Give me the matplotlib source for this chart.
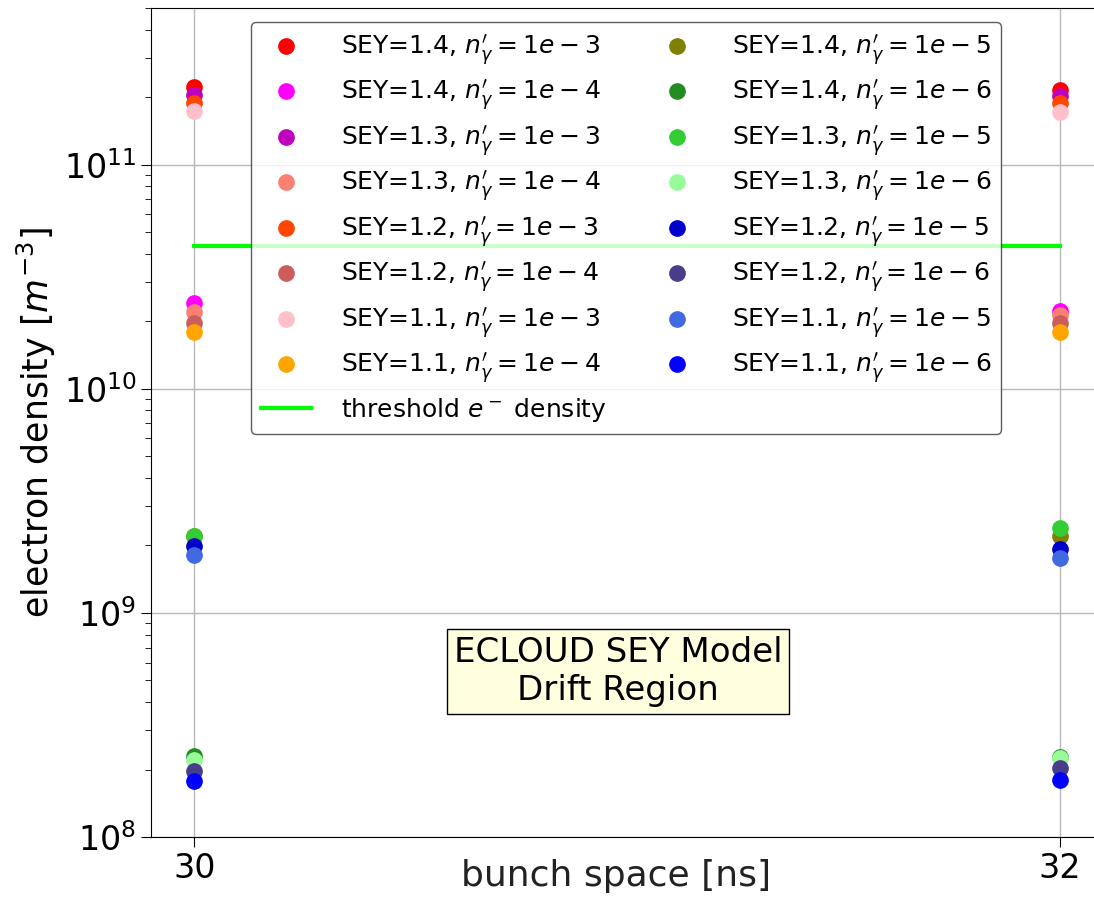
import matplotlib.pyplot as plt

bunch_space = [30, 32]

# SEY, n'_gamma, colour, densities at 30 ns and 32 ns
sey = [1.4, 1.4, 1.3, 1.3, 1.2, 1.2, 1.1, 1.1,
       1.4, 1.4, 1.3, 1.3, 1.2, 1.2, 1.1, 1.1]
ngamma = ["1e-3", "1e-4", "1e-3", "1e-4", "1e-3", "1e-4", "1e-3", "1e-4",
          "1e-5", "1e-6", "1e-5", "1e-6", "1e-5", "1e-6", "1e-5", "1e-6"]
colors = ["red", "magenta", "m", "salmon", "orangered", "indianred", "pink", "orange",
          "olive", "forestgreen", "limegreen", "palegreen", "mediumblue", "darkslateblue",
          "royalblue", "blue"]
dens_30 = [2.21e11, 2.42e10, 2.05e11, 2.21e10, 1.89e11, 1.97e10, 1.74e11, 1.80e10,
           2.21e9, 2.30e8, 2.21e9, 2.21e8, 1.99e9, 1.97e8, 1.82e9, 1.78e8]
dens_32 = [2.15e11, 2.23e10, 2.03e11, 2.14e10, 1.89e11, 1.97e10, 1.72e11, 1.80e10,
           2.21e9, 2.28e8, 2.39e9, 2.25e8, 1.93e9, 2.03e8, 1.76e9, 1.80e8]

threshold = 4.35e10

fig = plt.figure(figsize=(10.94, 8.97), dpi=100)
ax = fig.add_axes([151/1094, 1-837/897, (1103-151)/1094, (837-8)/897])

handles = []
for i in range(len(sey)):
    lab = "SEY=%.1f, $n^{\\prime}_{\\gamma}=%s$" % (sey[i], ngamma[i].replace("-", " - "))
    h, = ax.plot(bunch_space, [dens_30[i], dens_32[i]], 'o', color=colors[i],
                 markersize=11, label=lab)
    handles.append(h)

th, = ax.plot(bunch_space, [threshold, threshold], color='lime', lw=3,
              label="threshold $e^-$ density")

ax.set_yscale('log')
ax.set_xlim(29.9, 32.1)
ax.set_ylim(1e8, 5e11)
ax.set_xticks(bunch_space)
ax.grid(True, color='#b8b8b8', lw=1)
ax.tick_params(labelsize=24, length=7)
ax.tick_params(which='minor', length=4)

ax.set_xlabel("bunch space [ns]", fontsize=26, color='#222222')
ax.xaxis.set_label_coords(0.489, -0.026)
ax.set_ylabel("electron density [$m^{-3}$]", fontsize=25)

# legend: first column has the 1e-3/1e-4 runs plus threshold
order = handles[:8] + [th] + handles[8:]
ax.legend(handles=order, ncol=2, fontsize=18, loc='upper left',
          bbox_to_anchor=(0.105, 0.983), borderaxespad=0,
          labelspacing=0.4, handletextpad=1.2, columnspacing=1.8,
          edgecolor='#333333', framealpha=0.8)

ax.text(30.98, 5.46e8, "ECLOUD SEY Model\nDrift Region", fontsize=24.5, ha='center',
        va='center', bbox=dict(boxstyle='square,pad=0.2', facecolor='lightyellow',
                               edgecolor='black'))

plt.savefig("out.png", dpi=100)
